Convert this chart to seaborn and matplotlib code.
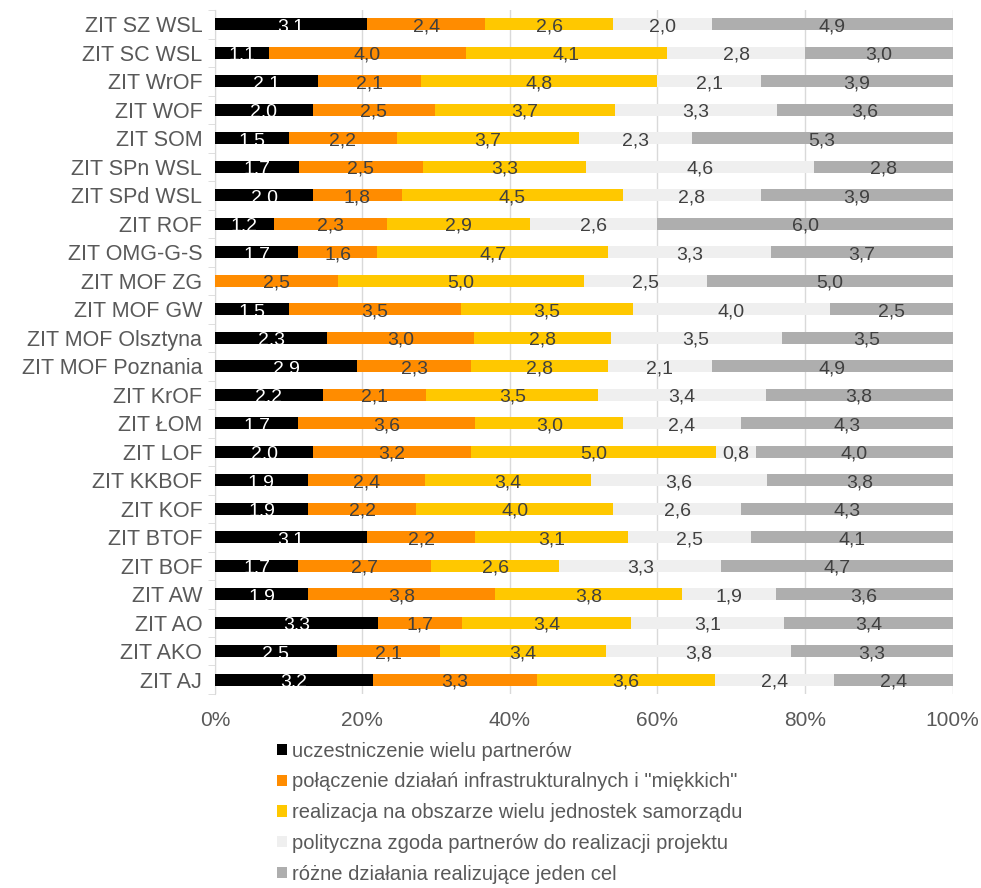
import matplotlib
import matplotlib.pyplot as plt
import numpy as np
import pandas as pd
import seaborn as sns
from matplotlib.patches import Patch
from matplotlib.ticker import PercentFormatter

categories = [
    "ZIT SZ WSL", "ZIT SC WSL", "ZIT WrOF", "ZIT WOF", "ZIT SOM",
    "ZIT SPn WSL", "ZIT SPd WSL", "ZIT ROF", "ZIT OMG-G-S", "ZIT MOF ZG",
    "ZIT MOF GW", "ZIT MOF Olsztyna", "ZIT MOF Poznania", "ZIT KrOF",
    "ZIT ŁOM", "ZIT LOF", "ZIT KKBOF", "ZIT KOF", "ZIT BTOF", "ZIT BOF",
    "ZIT AW", "ZIT AO", "ZIT AKO", "ZIT AJ",
]

series_names = [
    "uczestniczenie wielu partnerów",
    'połączenie działań infrastrukturalnych i "miękkich"',
    "realizacja na obszarze wielu jednostek samorządu",
    "polityczna zgoda partnerów do realizacji projektu",
    "różne działania realizujące jeden cel",
]

partnerzy = [3.1, 1.1, 2.1, 2.0, 1.5, 1.7, 2.0, 1.2, 1.7, 0.0, 1.5, 2.3,
             2.9, 2.2, 1.7, 2.0, 1.9, 1.9, 3.1, 1.7, 1.9, 3.3, 2.5, 3.2]
polaczenie = [2.4, 4.0, 2.1, 2.5, 2.2, 2.5, 1.8, 2.3, 1.6, 2.5, 3.5, 3.0,
              2.3, 2.1, 3.6, 3.2, 2.4, 2.2, 2.2, 2.7, 3.8, 1.7, 2.1, 3.3]
obszar = [2.6, 4.1, 4.8, 3.7, 3.7, 3.3, 4.5, 2.9, 4.7, 5.0, 3.5, 2.8,
          2.8, 3.5, 3.0, 5.0, 3.4, 4.0, 3.1, 2.6, 3.8, 3.4, 3.4, 3.6]
zgoda = [2.0, 2.8, 2.1, 3.3, 2.3, 4.6, 2.8, 2.6, 3.3, 2.5, 4.0, 3.5,
         2.1, 3.4, 2.4, 0.8, 3.6, 2.6, 2.5, 3.3, 1.9, 3.1, 3.8, 2.4]
dzialania = [4.9, 3.0, 3.9, 3.6, 5.3, 2.8, 3.9, 6.0, 3.7, 5.0, 2.5, 3.5,
             4.9, 3.8, 4.3, 4.0, 3.8, 4.3, 4.1, 4.7, 3.6, 3.4, 3.3, 2.4]

colors = ["#000000", "#FF8C00", "#FFC800", "#EFEFEF", "#AEAEAE"]
label_colors = ["white", "#404040", "#404040", "#404040", "#404040"]

df = pd.DataFrame(
    {"Zone": categories, "s0": partnerzy, "s1": polaczenie, "s2": obszar,
     "s3": zgoda, "s4": dzialania}
)
cols = ["s0", "s1", "s2", "s3", "s4"]
total = df[cols].sum(axis=1)
share = df[cols].div(total, axis=0)
cum = share.cumsum(axis=1)

plt.rcParams["font.family"] = ["Liberation Sans", "DejaVu Sans"]
fig = plt.figure(figsize=(9.81, 8.88), dpi=100)
ax = fig.add_axes([0.219, 0.2185, 0.752, 0.770])

# overlay cumulative bars, widest first
for i in range(len(cols) - 1, -1, -1):
    plot_df = pd.DataFrame({"Zone": categories, "x": cum[cols[i]]})
    sns.barplot(data=plot_df, x="x", y="Zone", orient="h", color=colors[i],
                width=0.42, saturation=1, ax=ax, zorder=3)

# value labels
for i, c in enumerate(cols):
    starts = cum[c] - share[c]
    for j in range(len(categories)):
        v = df[c].iloc[j]
        if v <= 0:
            continue
        ax.text(starts.iloc[j] + share[c].iloc[j] / 2, j + 0.08,
                f"{v:.1f}".replace(".", ","), ha="center", va="center",
                fontsize=14, color=label_colors[i], zorder=5)

ax.set_xlim(0, 1)
ax.set_ylim(len(categories) - 0.5, -0.5)
ax.xaxis.set_major_formatter(PercentFormatter(1.0, decimals=0))
ax.set_xticks(np.arange(0, 1.01, 0.2))
ax.grid(axis="x", color="#D9D9D9", linewidth=1, zorder=0)
ax.set_axisbelow(True)
ax.set_xlabel("")
ax.set_ylabel("")
for s in ["top", "right", "bottom"]:
    ax.spines[s].set_visible(False)
ax.spines["left"].set_color("#D9D9D9")
ax.tick_params(axis="x", length=0, labelsize=15, labelcolor="#595959", pad=12)
ax.tick_params(axis="y", which="major", length=0, labelsize=15.5,
               labelcolor="#595959", pad=9)
ax.set_yticks(np.arange(-0.5, len(categories)), minor=True)
ax.tick_params(axis="y", which="minor", length=5, color="#D9D9D9")

handles = [Patch(facecolor=colors[i], edgecolor="none", label=series_names[i])
           for i in range(len(series_names))]
fig.legend(handles=handles, loc="upper left", bbox_to_anchor=(0.272, 0.176),
           frameon=False, fontsize=14.5, labelcolor="#595959",
           handlelength=0.5, handleheight=0.5, handletextpad=0.25,
           labelspacing=0.58, borderpad=0)

fig.savefig("out.png", dpi=100)
